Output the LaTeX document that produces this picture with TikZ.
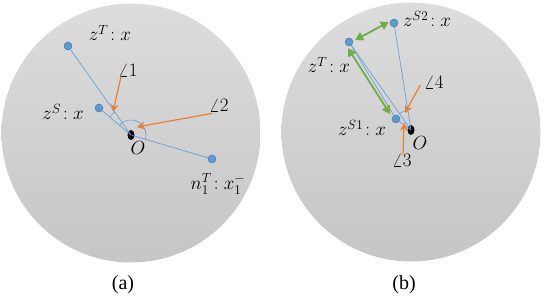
\RequirePackage{fix-cm}
\documentclass[tikz,border=0pt]{standalone}
\usepackage{fontspec}
\setmainfont{Liberation Serif}
\usetikzlibrary{arrows.meta, positioning, calc, shapes.geometric}
\definecolor{ptblue}{HTML}{5B9BD5}
\definecolor{ptedge}{HTML}{41719C}
\definecolor{angorange}{HTML}{ED7D31}
\definecolor{distgreen}{HTML}{70AD47}
\tikzstyle{arrow} = [line width=1.2pt, angorange, -{Stealth[length=8pt, width=8pt, inset=3pt]}]

\begin{document}
\begin{tikzpicture}[x=1pt, y=1pt,
    sphere/.style={circle, minimum size=259pt, inner sep=0pt,
                   top color=gray!27, bottom color=gray!45},
    pt/.style={circle, draw=ptedge, fill=ptblue, line width=0.4pt,
               minimum size=8pt, inner sep=0pt},
    origin/.style={ellipse, fill=black, minimum width=7pt, minimum height=10pt, inner sep=0pt},
    lbl/.style={font=\fontsize{19}{22}\selectfont, inner sep=1pt},
    link/.style={ptblue, line width=0.6pt},
    dist/.style={distgreen, line width=1.8pt,
                 {Triangle[length=8pt, width=9pt]}-{Triangle[length=8pt, width=9pt]}},
    subcap/.style={font=\fontsize{20}{22}\selectfont}
]
\useasboundingbox (0,0) rectangle (544,300);

% (a) - single source
\node[sphere] (sa) at (131,167) {};
\node[pt] (zt) at (68,254) {};
\node[pt] (zs) at (99,192) {};
\node[pt] (nt) at (212,141) {};
\node[origin] (oa) at (131,165) {};
\draw[link] (zt) -- (oa.center);
\draw[link] (zs) -- (oa.center);
\draw[link] (oa.center) -- (nt);
\draw[link] ($(oa.center)+(125.3:28)$) arc (125.3:139.8:28);
\draw[link] ($(oa.center)+(139.8:15)$) arc (139.8:-16.5:15);
\node[lbl] (zta) at (110,267) {$z^{T}\!: x$};
\node[lbl] (zsa) at (63,188) {$z^{S}\!: x$};
\node[lbl] (ola) at (138,152) {$O$};
\node[lbl] (nta) at (218,116) {$n_1^{T}\!: x_1^{-}$};
\node[lbl] (ang1) at (128,230) {$\angle 1$};
\node[lbl] (ang2) at (219,195) {$\angle 2$};
\coordinate (ang1tip) at (113,188);
\coordinate (ang2tip) at (137,173);
\draw[arrow] (ang1.south west) ++(4,2) -- (ang1tip);
\draw[arrow] (ang2.south west) ++(4,-1) -- (ang2tip);
\node[subcap] (capa) at (123,15) {(a)};

% (b) - two sources
\node[sphere] (sb) at (411,168) {};
\node[pt] (zs2) at (394,277) {};
\node[pt] (ztb) at (349,258) {};
\node[pt] (zs1) at (396,181) {};
\node[origin] (ob) at (411,170) {};
\draw[link] (ztb) -- (ob.center);
\draw[link] (ztb) -- (zs1);
\draw[link] (zs1) -- (ob.center);
\draw[link] (zs2) -- (ob.center);
\draw[link] ($(ob.center)+(99:20)$) arc (99:125.2:20);
\draw[link] ($(ob.center)+(125.2:9)$) arc (125.2:144:9);
\draw[dist] ([shift={(2,2)}]ztb.east) -- ([shift={(-1,1)}]zs2.west);
\draw[dist] ([shift={(-1,-2)}]ztb.south) -- ([shift={(-3,2)}]zs1.north west);
\node[lbl] (zs2b) at (427,281) {$z^{S2}\!: x$};
\node[lbl] (ztbl) at (329,235) {$z^{T}\!: x$};
\node[lbl] (zs1b) at (362,172) {$z^{S1}\!: x$};
\node[lbl] (olb) at (420,157) {$O$};
\node[lbl] (ang4) at (434,218) {$\angle 4$};
\node[lbl] (ang3) at (402,140) {$\angle 3$};
\coordinate (ang4tip) at (405,187);
\coordinate (ang3tip) at (404,177);
\draw[arrow] (ang4.west) ++(-3,-3) -- (ang4tip);
\draw[arrow] (ang3.north) ++(1,-2) -- (ang3tip);
\node[subcap] (capb) at (404,15) {(b)};
\end{tikzpicture}
\end{document}
